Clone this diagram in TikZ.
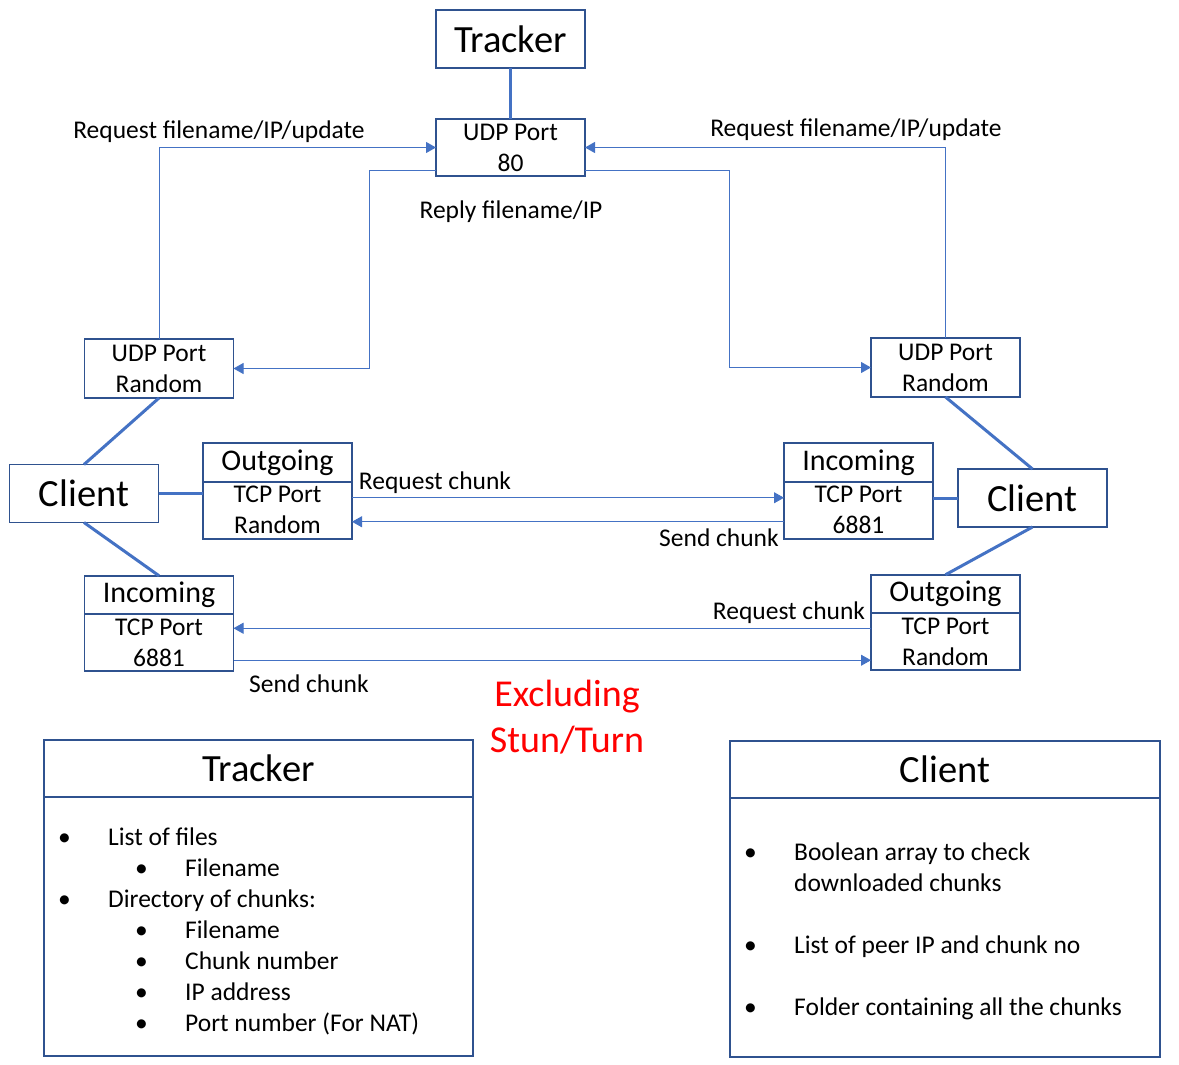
\documentclass[tikz,border=0pt]{standalone}
\usepackage{fontspec}
\setmainfont{Carlito}
\usetikzlibrary{positioning}
\usetikzlibrary{arrows.meta}

\definecolor{boxblue}{HTML}{2F528F}
\definecolor{linkblue}{HTML}{4472C4}
\definecolor{notered}{HTML}{FF0000}

\newcommand{\itm}[1]{\makebox[50pt][l]{\textbullet}#1}
\newcommand{\subitm}[1]{\hspace*{77pt}\makebox[50pt][l]{\textbullet}#1}

\begin{document}
\begin{tikzpicture}[x=1pt, y=-1pt,
    box/.style={draw=boxblue, line width=1.8pt, outer sep=0pt, inner sep=0pt, minimum width=149pt, align=center, font=\fontsize{25.5}{31}\selectfont},
    bigbox/.style={box, minimum height=58pt, font=\fontsize{38.5}{44}\selectfont},
    head/.style={box, minimum height=38.5pt, font=\fontsize{30}{34}\selectfont},
    body/.style={box, minimum height=57pt},
    panelhead/.style={box, minimum width=429pt, minimum height=57pt, font=\fontsize{38.5}{44}\selectfont},
    panelbody/.style={box, minimum width=429pt, minimum height=259pt},
    link/.style={linkblue, line width=3pt},
    flow/.style={linkblue, line width=0.9pt, -{Triangle[length=10pt, width=11pt]}},
    lbl/.style={inner sep=0pt, font=\fontsize{25.5}{30}\selectfont},
    items/.style={inner sep=0pt, align=left, anchor=north west, font=\fontsize{25.5}{31}\selectfont}]
    \useasboundingbox (0,0) rectangle (1179,1065);

    % tracker side
    \node[bigbox] (trk) at (510.5,39) {Tracker};
    \node[body] (udp80) at (510.5,147.5) {UDP Port\\80};

    % clients with their ports
    \node[body, minimum height=59pt] (udpL) at (159,368.5) {UDP Port\\Random};
    \node[body, minimum height=59pt] (udpR) at (945.5,367.5) {UDP Port\\Random};
    \node[bigbox] (cl1) at (84,493.5) {Client};
    \node[bigbox] (cl2) at (1032.5,498) {Client};

    \node[head] (out1h) at (277.5,462.5) {Outgoing};
    \node[body, below=0pt of out1h] (out1b) {TCP Port\\Random};
    \node[head] (in2h) at (858.5,462.5) {Incoming};
    \node[body, below=0pt of in2h] (in2b) {TCP Port\\6881};
    \node[head] (in1h) at (159,595) {Incoming};
    \node[body, below=0pt of in1h] (in1b) {TCP Port\\6881};
    \node[head] (out2h) at (945.5,594) {Outgoing};
    \node[body, below=0pt of out2h] (out2b) {TCP Port\\Random};

    \draw[link] (trk) -- (udp80);
    \draw[link] (udpL.south) -- (cl1.north);
    \draw[link] (cl1.east) -- (cl1.east -| out1b.west);
    \draw[link] (cl1.south) -- (in1h.north);
    \draw[link] (udpR.south) -- (cl2.north);
    \draw[link] (cl2.west) -- (cl2.west -| in2b.east);
    \draw[link] (cl2.south) -- (out2h.north);

    % udp requests and replies
    \draw[flow] (udpL.north) |- (udp80.west);
    \draw[flow] (udpR.north) |- (udp80.east);
    \draw[flow] ([yshift=-22.5pt]udp80.west) -- ++(-67,0) |- (udpL.east);
    \draw[flow] ([yshift=-22.5pt]udp80.east) -- ++(144,0) |- (udpR.west);
    \node[lbl] (reqL) at (219,132) {Request filename/IP/update};
    \node[lbl] (reqR) at (856,130) {Request filename/IP/update};
    \node[lbl] (reply) at (511,212) {Reply filename/IP};

    % tcp chunks
    \draw[flow] ([yshift=12.5pt]out1b.east) -- ([yshift=12.5pt]in2b.west);
    \draw[flow] ([yshift=-11.5pt]in2b.west) -- ([yshift=-11.5pt]out1b.east);
    \draw[flow] ([yshift=13.5pt]out2b.west) -- ([yshift=13.5pt]out2b.west -| in1b.east);
    \draw[flow] ([yshift=-17.5pt]in1b.east) -- ([yshift=-17.5pt]in1b.east -| out2b.west);
    \node[lbl] (req1) at (435,483) {Request chunk};
    \node[lbl] (send1) at (719,538) {Send chunk};
    \node[lbl] (req2) at (789,613) {Request chunk};
    \node[lbl] (send2) at (309,684) {Send chunk};

    \node[text=notered, inner sep=0pt, align=center, font=\fontsize{38}{46}\selectfont] (note) at (567,717) {Excluding\\Stun/Turn};

    % legend panels
    \node[panelhead] (trkh) at (258.5,768.5) {Tracker};
    \node[panelbody, below=0pt of trkh] (trkb) {};
    \node[items] (trkl) at (58,828) {\itm{List of files}\\ \subitm{Filename}\\ \itm{Directory of chunks:}\\ \subitm{Filename}\\ \subitm{Chunk number}\\ \subitm{IP address}\\ \subitm{Port number (For NAT)}};

    \node[panelhead, minimum width=430pt] (clh) at (945,769.5) {Client};
    \node[panelbody, minimum width=430pt, below=0pt of clh] (clb) {};
    \node[items] (cll) at (744,843) {\itm{Boolean array to check}\\ \hspace*{50pt}downloaded chunks\\[31pt] \itm{List of peer IP and chunk no}\\[31pt] \itm{Folder containing all the chunks}};
\end{tikzpicture}
\end{document}
